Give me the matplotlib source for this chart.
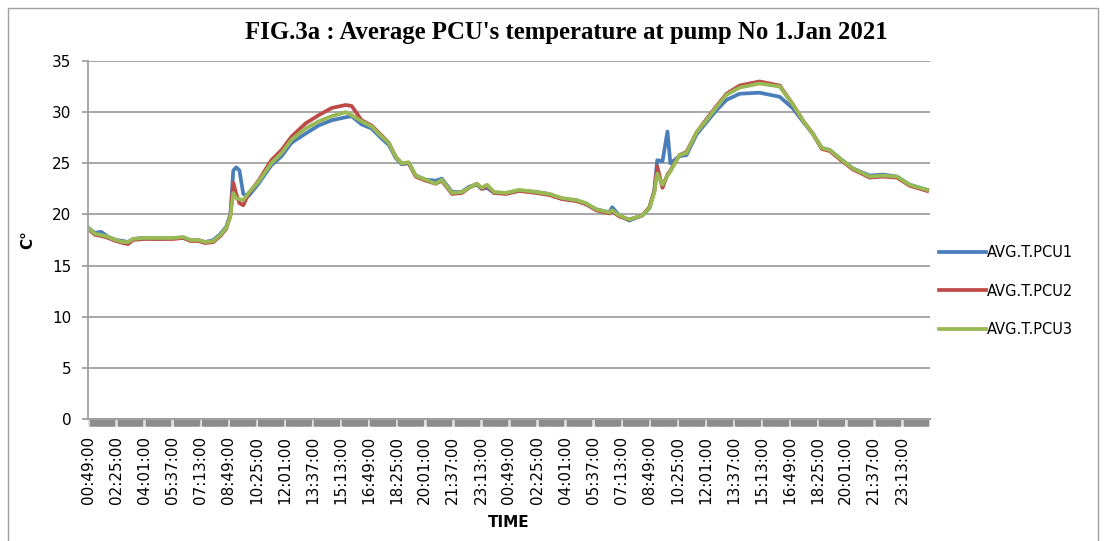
import matplotlib
matplotlib.use("Agg")
import matplotlib.pyplot as plt
from matplotlib.patches import Rectangle

# minutes after 00:49:00 on the first day
minutes = [0, 24, 45, 69, 96, 120, 137, 154, 189, 240, 291, 326, 350, 377, 401, 429,
           453, 473, 487, 497, 507, 518, 531, 549, 583, 627, 662, 696, 744, 789, 833,
           881, 902, 936, 970, 1005, 1029, 1053, 1073, 1097, 1121, 1155, 1190, 1210,
           1245, 1279, 1303, 1330, 1347, 1365, 1389, 1430, 1474, 1533, 1577, 1622,
           1670, 1704, 1738, 1783, 1793, 1817, 1851, 1896, 1920, 1937, 1947, 1965,
           1982, 1992, 2023, 2047, 2081, 2115, 2150, 2184, 2229, 2297, 2366, 2410,
           2445, 2479, 2510, 2537, 2571, 2616, 2674, 2719, 2767, 2811, 2870]

pcu1 = [18.7, 18.2, 18.3, 17.8, 17.5, 17.4, 17.3, 17.6, 17.7, 17.6, 17.7, 17.7, 17.5,
        17.5, 17.3, 17.5, 18.1, 18.8, 20.0, 24.3, 24.6, 24.3, 22.0, 21.8, 23.0, 24.8,
        25.7, 27.0, 27.9, 28.7, 29.2, 29.5, 29.6, 28.8, 28.4, 27.4, 26.8, 25.5, 24.9,
        25.0, 23.8, 23.4, 23.3, 23.5, 22.2, 22.2, 22.7, 22.9, 22.5, 22.6, 22.1, 22.1,
        22.3, 22.2, 22.0, 21.5, 21.4, 21.0, 20.5, 20.2, 20.7, 19.9, 19.4, 19.9, 20.6,
        22.3, 25.3, 25.2, 28.1, 25.0, 25.7, 25.8, 27.8, 29.0, 30.2, 31.2, 31.8, 31.9,
        31.5, 30.4, 29.1, 27.9, 26.5, 26.3, 25.5, 24.5, 23.8, 23.9, 23.7, 22.9, 22.4]

pcu2 = [18.6, 18.0, 17.9, 17.7, 17.4, 17.2, 17.1, 17.5, 17.6, 17.6, 17.6, 17.7, 17.4,
        17.4, 17.2, 17.3, 17.9, 18.6, 19.9, 23.1, 22.0, 21.1, 20.9, 22.0, 23.3, 25.3,
        26.3, 27.6, 28.9, 29.7, 30.4, 30.7, 30.6, 29.2, 28.7, 27.7, 27.0, 25.6, 25.0,
        25.0, 23.7, 23.3, 23.0, 23.3, 22.0, 22.1, 22.6, 23.0, 22.5, 22.8, 22.1, 22.0,
        22.3, 22.1, 21.9, 21.5, 21.3, 21.0, 20.4, 20.1, 20.3, 19.8, 19.5, 19.9, 20.7,
        22.3, 24.7, 22.6, 23.9, 24.3, 25.8, 26.1, 28.0, 29.3, 30.6, 31.8, 32.6, 33.0,
        32.6, 30.8, 29.2, 27.9, 26.4, 26.2, 25.4, 24.4, 23.6, 23.7, 23.6, 22.8, 22.3]

pcu3 = [18.7, 18.1, 18.0, 17.8, 17.5, 17.3, 17.3, 17.6, 17.7, 17.7, 17.7, 17.8, 17.5,
        17.5, 17.3, 17.4, 18.0, 18.7, 19.8, 22.1, 21.6, 21.5, 21.4, 22.1, 23.2, 25.0,
        26.0, 27.3, 28.4, 29.1, 29.6, 30.0, 29.7, 29.1, 28.6, 27.6, 27.0, 25.6, 25.0,
        25.1, 23.8, 23.4, 23.0, 23.4, 22.1, 22.2, 22.6, 23.0, 22.6, 22.9, 22.2, 22.1,
        22.4, 22.2, 22.0, 21.6, 21.4, 21.1, 20.5, 20.2, 20.4, 19.9, 19.5, 19.9, 20.6,
        22.1, 24.0, 22.9, 23.8, 24.2, 25.8, 26.0, 28.0, 29.2, 30.5, 31.7, 32.4, 32.8,
        32.5, 30.8, 29.2, 27.9, 26.5, 26.3, 25.5, 24.5, 23.7, 23.8, 23.7, 22.9, 22.4]

tick_labels = ["00:49:00", "02:25:00", "04:01:00", "05:37:00", "07:13:00", "08:49:00",
               "10:25:00", "12:01:00", "13:37:00", "15:13:00", "16:49:00", "18:25:00",
               "20:01:00", "21:37:00", "23:13:00"] * 2
tick_pos = [96 * i for i in range(len(tick_labels))]

fig = plt.figure(figsize=(11.06, 5.41), dpi=100)
ax = fig.add_axes([88 / 1106, 1 - 419 / 541, (930 - 88) / 1106, (419 - 61) / 541])

ax.plot(minutes, pcu1, color="#4a7ebb", lw=2.7, label="AVG.T.PCU1")
ax.plot(minutes, pcu2, color="#be4b48", lw=2.7, label="AVG.T.PCU2")
ax.plot(minutes, pcu3, color="#98b954", lw=2.7, label="AVG.T.PCU3")

ax.set_xlim(0, 2880)
ax.set_ylim(0, 35)
ax.set_yticks(range(0, 36, 5))
ax.yaxis.grid(True, color="#a0a0a0", lw=1.3)
ax.set_axisbelow(True)
for s in ["top", "right", "bottom"]:
    ax.spines[s].set_visible(False)
ax.spines["left"].set_color("#a0a0a0")
ax.spines["left"].set_linewidth(1.3)

ax.set_xticks(tick_pos)
ax.set_xticklabels(tick_labels, rotation=90, fontsize=11, family="DejaVu Sans")
# dense category ticks form the grey band, with small gaps at the labelled ticks
minor = [m for m in range(0, 2881, 2) if min(m % 96, 96 - m % 96) > 5]
ax.set_xticks(minor, minor=True)
ax.tick_params(axis="x", which="major", length=5, width=1, color="#e0e0e0",
               pad=7, direction="out")
ax.tick_params(axis="x", which="minor", length=5, width=1.0, color="#8c8c8c",
               direction="out")
ax.tick_params(axis="y", length=4, width=1.3, color="#a0a0a0", labelsize=11, pad=8)
ax.axhline(0, color="#a0a0a0", lw=1.5, clip_on=False)

ax.set_xlabel("TIME", fontsize=11, fontweight="bold", labelpad=8)
ax.set_ylabel("C°", fontsize=11, fontweight="bold", labelpad=12)

fig.text(566 / 1106, 1 - 33 / 541, "FIG.3a : Average PCU's temperature at pump No 1.Jan 2021",
         ha="center", va="center", fontsize=17.8, fontweight="bold", family="Liberation Serif")

fig.legend(loc="center left", bbox_to_anchor=(926 / 1106, 1 - 291 / 541), frameon=False,
           fontsize=10.5, handlelength=3.2, handletextpad=0.1, labelspacing=1.6)

fig.patches.append(Rectangle((8 / 1106, -0.05), 1090 / 1106, 1.05 - 8 / 541,
                             transform=fig.transFigure, fill=False,
                             edgecolor="#a0a0a0", lw=1))

fig.savefig("out.png", dpi=100)
